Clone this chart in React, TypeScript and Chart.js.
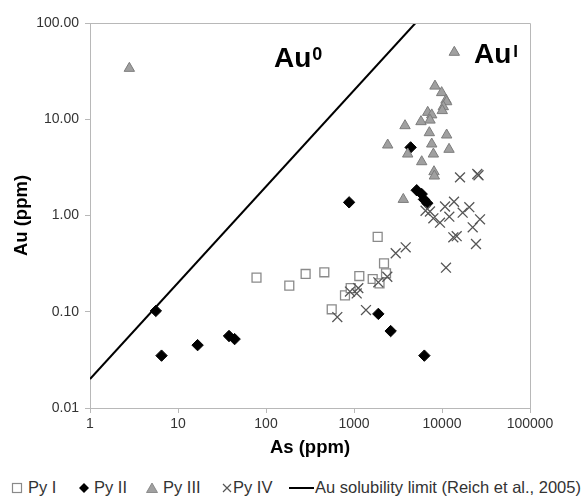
import React, { useEffect, useRef } from "react";
import { Chart, registerables } from "chart.js";

Chart.register(...registerables);

// ---- data (ppm) ----
const pyIAs = [78, 184, 282, 460, 558, 790, 917, 1149, 1631, 1950, 1858, 2193, 2311];
const pyIAu = [0.226, 0.187, 0.247, 0.257, 0.106, 0.148, 0.176, 0.235, 0.219, 0.197, 0.6, 0.318, 0.251];

const pyIIAs = [5.6, 6.5, 16.7, 38, 44, 880, 1890, 2610, 6300, 4400, 5160, 5880, 6240, 6810];
const pyIIAu = [0.102, 0.035, 0.045, 0.056, 0.052, 1.37, 0.095, 0.063, 0.035, 5.1, 1.83, 1.67, 1.47, 1.34];

const pyIIIAs = [2.8, 13800, 8320, 9910, 11100, 11300, 10350, 10070, 6880, 7640, 7310, 5770, 3800, 7180, 11300, 2415, 7640, 12020, 4075, 7980, 5880, 8110, 8190, 3633];
const pyIIIAu = [33.8, 49.6, 22.1, 18.9, 15.8, 15.2, 13.5, 12.3, 11.8, 11.1, 9.8, 9.44, 8.57, 7.25, 6.86, 5.4, 5.53, 4.87, 4.35, 4.35, 3.62, 2.85, 2.57, 1.47];

const pyIVAs = [646, 900, 1073, 1119, 1368, 1890, 2390, 2978, 3866, 6500, 7300, 7980, 9490, 10820, 13690, 12110, 17180, 20430, 27040, 22330, 13450, 14690, 24330, 11100, 16020, 25180, 26000];
const pyIVAu = [0.088, 0.162, 0.155, 0.176, 0.104, 0.202, 0.231, 0.405, 0.467, 1.12, 1.1, 0.935, 0.842, 1.24, 1.39, 0.973, 1.07, 1.22, 0.913, 0.754, 0.593, 0.61, 0.506, 0.287, 2.49, 2.7, 2.62];

// Au solubility limit (Reich et al., 2005): Au = 0.02 * As
const solAs = [1, 5000];
const solAu = [0.02, 100];

const xTickValues = [1, 10, 100, 1000, 10000, 100000];
const yTickValues = [0.01, 0.1, 1, 10, 100];

const FONT = "'Liberation Sans', Arial, Helvetica, sans-serif";

const pts = (xs: number[], ys: number[]) => xs.map((x, i) => ({ x, y: ys[i] }));

const boxPlugin = {
  id: "boxPlugin",
  afterDraw(chart: any) {
    const { ctx, chartArea } = chart;
    const { left, right, top, bottom } = chartArea;
    ctx.save();
    ctx.strokeStyle = "#b8b8b8";
    ctx.lineWidth = 1;
    ctx.beginPath();
    ctx.moveTo(left, Math.round(top) + 0.5);
    ctx.lineTo(Math.round(right) + 0.5, Math.round(top) + 0.5);
    ctx.lineTo(Math.round(right) + 0.5, bottom);
    ctx.stroke();
    ctx.restore();
  },
};

const annotationPlugin = {
  id: "annotationPlugin",
  afterDatasetsDraw(chart: any) {
    const { ctx } = chart;
    ctx.save();
    ctx.fillStyle = "#000";
    ctx.textBaseline = "alphabetic";
    ctx.textAlign = "left";
    // Au0
    ctx.font = `bold 28px ${FONT}`;
    ctx.fillText("Au", 274, 67);
    let w = ctx.measureText("Au").width;
    ctx.font = `bold 18px ${FONT}`;
    ctx.fillText("0", 274 + w + 1, 60);
    // AuI
    ctx.font = `bold 28px ${FONT}`;
    ctx.fillText("Au", 474, 63);
    w = ctx.measureText("Au").width;
    ctx.font = `bold 17px ${FONT}`;
    ctx.fillText("I", 474 + w + 2, 57);
    ctx.restore();
  },
};

export default function App() {
  const ref = useRef<HTMLCanvasElement>(null);

  useEffect(() => {
    const canvas = ref.current;
    if (!canvas) return;
    const chart = new Chart(canvas, {
      type: "scatter",
      data: {
        datasets: [
          {
            label: "Py I",
            data: pts(pyIAs, pyIAu),
            pointStyle: "rect",
            pointRadius: 6.3,
            pointBackgroundColor: "#ffffff",
            pointBorderColor: "#8a8a8a",
            pointBorderWidth: 1.3,
            order: 4,
          },
          {
            label: "Py II",
            data: pts(pyIIAs, pyIIAu),
            pointStyle: "rectRot",
            pointRadius: 5.7,
            pointBackgroundColor: "#000000",
            pointBorderColor: "#000000",
            pointBorderWidth: 1,
            order: 3,
          },
          {
            label: "Py III",
            data: pts(pyIIIAs, pyIIIAu),
            pointStyle: "triangle",
            pointRadius: 6,
            pointBackgroundColor: "#a0a0a0",
            pointBorderColor: "#7c7c7c",
            pointBorderWidth: 1,
            order: 2,
          },
          {
            label: "Py IV",
            data: pts(pyIVAs, pyIVAu),
            pointStyle: "crossRot",
            pointRadius: 7,
            pointBorderColor: "#555555",
            pointBorderWidth: 1.3,
            order: 1,
          },
          {
            label: "Au solubility limit (Reich et al., 2005)",
            data: pts(solAs, solAu),
            showLine: true,
            borderColor: "#000000",
            borderWidth: 2,
            pointRadius: 0,
            order: 5,
          },
        ] as any,
      },
      options: {
        animation: false,
        responsive: false,
        maintainAspectRatio: false,
        layout: { padding: { top: 23, right: 56, left: 0, bottom: 0 } },
        plugins: {
          legend: { display: false },
          tooltip: { enabled: false },
        },
        scales: {
          x: {
            type: "logarithmic",
            min: 1,
            max: 100000,
            afterBuildTicks: (s: any) => {
              s.ticks = xTickValues.map((v) => ({ value: v }));
            },
            afterFit: (s: any) => {
              s.height = 60;
            },
            ticks: {
              color: "#333",
              font: { family: FONT, size: 14 },
              padding: 3,
              maxRotation: 0,
              autoSkip: false,
              callback: (v: any) => String(v),
            },
            grid: { drawOnChartArea: false, drawTicks: true, tickLength: 5, color: "#b8b8b8" },
            border: { display: true, color: "#b8b8b8" },
            title: {
              display: true,
              text: "As (ppm)",
              color: "#000",
              font: { family: FONT, size: 18.5, weight: "bold" },
              padding: { top: 0, bottom: 9 },
            },
          },
          y: {
            type: "logarithmic",
            min: 0.01,
            max: 100,
            afterBuildTicks: (s: any) => {
              s.ticks = yTickValues.map((v) => ({ value: v }));
            },
            afterFit: (s: any) => {
              s.width = 90;
            },
            ticks: {
              color: "#333",
              font: { family: FONT, size: 14 },
              padding: 6,
              autoSkip: false,
              callback: (v: any) => Number(v).toFixed(2),
            },
            grid: { drawOnChartArea: false, drawTicks: true, tickLength: 5, color: "#b8b8b8" },
            border: { display: true, color: "#b8b8b8" },
            title: {
              display: true,
              text: "Au (ppm)",
              color: "#000",
              font: { family: FONT, size: 18.5, weight: "bold" },
              padding: { top: 11, bottom: 0 },
            },
          },
        },
      } as any,
      plugins: [boxPlugin, annotationPlugin],
    });
    return () => chart.destroy();
  }, []);

  const textStyle: React.CSSProperties = {
    position: "absolute",
    top: 478,
    fontFamily: FONT,
    fontSize: 16.5,
    lineHeight: "18px",
    color: "#333",
    whiteSpace: "nowrap",
  };
  const markerStyle = (left: number): React.CSSProperties => ({
    position: "absolute",
    left,
    top: 482,
    width: 12,
    height: 12,
  });

  return (
    <div
      style={{
        position: "fixed",
        left: 0,
        top: 0,
        width: 586,
        height: 496,
        background: "#ffffff",
        overflow: "hidden",
      }}
    >
      <canvas ref={ref} width={586} height={468} style={{ position: "absolute", left: 0, top: 0, width: 586, height: 468 }} />
      <svg style={markerStyle(11)} viewBox="0 0 12 12">
        <rect x="1.5" y="1.5" width="9" height="9" fill="#fff" stroke="#8a8a8a" strokeWidth="1.2" />
      </svg>
      <span style={{ ...textStyle, left: 28 }}>Py I</span>
      <svg style={markerStyle(78)} viewBox="0 0 12 12">
        <polygon points="6,1 11,6 6,11 1,6" fill="#000" />
      </svg>
      <span style={{ ...textStyle, left: 94 }}>Py II</span>
      <svg style={markerStyle(146)} viewBox="0 0 12 12">
        <polygon points="6,1 11.5,10.5 0.5,10.5" fill="#a0a0a0" stroke="#7c7c7c" strokeWidth="0.8" />
      </svg>
      <span style={{ ...textStyle, left: 163 }}>Py III</span>
      <svg style={markerStyle(221)} viewBox="0 0 12 12">
        <path d="M2,2 L10,10 M10,2 L2,10" stroke="#555" strokeWidth="1.2" />
      </svg>
      <span style={{ ...textStyle, left: 233 }}>Py IV</span>
      <div style={{ position: "absolute", left: 289, top: 487, width: 25, height: 2, background: "#000" }} />
      <span style={{ ...textStyle, left: 315 }}>Au solubility limit (Reich et al., 2005)</span>
    </div>
  );
}
